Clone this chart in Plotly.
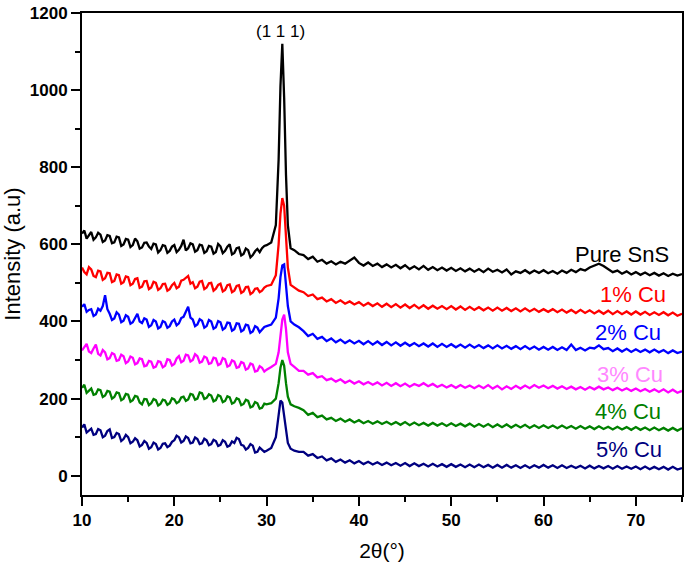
import numpy as np
import plotly.graph_objects as go

# 2theta sampling grid (degrees)
two_theta = (list(np.round(np.arange(10.0, 30.01, 0.25), 2))
             + [30.5, 31.0, 31.3, 31.5, 31.7, 31.9, 32.1, 32.3, 32.6, 33.0, 33.5]
             + list(np.round(np.arange(34.0, 75.01, 0.5), 2)))

pure_sns = [
    628, 636, 615, 622, 632, 612, 618, 630, 625, 606,
    610, 624, 622, 603, 605, 620, 618, 596, 600, 614,
    612, 593, 598, 615, 608, 589, 592, 604, 605, 594,
    588, 602, 600, 579, 585, 598, 596, 578, 583, 594,
    598, 580, 586, 596, 612, 584, 590, 603, 600, 581,
    585, 599, 597, 578, 582, 596, 594, 576, 580, 601,
    595, 577, 583, 594, 600, 574, 578, 590, 592, 571,
    575, 589, 585, 566, 572, 582, 588, 580, 590, 596,
    598,
    605, 650, 820, 1010, 1120, 980, 780, 650, 590, 585, 575,
    572, 562, 568, 555, 560, 550, 556, 548, 555, 550,
    558, 566, 552, 545, 553, 544, 550, 541, 548, 540,
    547, 538, 546, 536, 543, 535, 544, 534, 541, 533,
    540, 532, 539, 531, 538, 530, 537, 529, 536, 528,
    537, 529, 534, 527, 535, 522, 530, 526, 533, 525,
    532, 526, 533, 525, 531, 524, 532, 526, 534, 528,
    536, 532, 540, 545, 550, 544, 536, 528, 532, 524,
    530, 522, 528, 521, 527, 520, 526, 519, 525, 518,
    524, 519, 523,
]

cu_1 = [
    540, 528, 522, 541, 535, 518, 515, 532, 530, 508,
    512, 526, 525, 502, 505, 522, 520, 498, 502, 517,
    515, 494, 498, 510, 512, 487, 490, 504, 505, 484,
    488, 503, 500, 482, 486, 497, 498, 480, 484, 494,
    500, 486, 490, 506, 508, 514, 518, 498, 502, 486,
    490, 503, 505, 484, 488, 499, 500, 480, 485, 495,
    498, 478, 482, 494, 496, 476, 480, 492, 494, 474,
    478, 489, 490, 471, 475, 485, 486, 476, 480, 488,
    492,
    495, 520, 600, 680, 720, 700, 620, 540, 495, 488, 480,
    476, 466, 470, 458, 462, 452, 458, 448, 455, 446,
    452, 444, 450, 441, 448, 440, 447, 438, 446, 437,
    445, 436, 444, 435, 443, 434, 442, 433, 441, 433,
    440, 432, 440, 431, 439, 430, 438, 430, 437, 429,
    436, 428, 436, 428, 435, 427, 434, 426, 434, 426,
    433, 425, 432, 425, 432, 424, 431, 423, 430, 422,
    430, 422, 429, 421, 428, 420, 428, 419, 427, 419,
    426, 418, 426, 418, 425, 417, 424, 417, 424, 416,
    423, 415, 420,
]

cu_2 = [
    438, 445, 425, 430, 432, 414, 418, 433, 428, 440,
    468, 432, 420, 404, 408, 424, 418, 398, 402, 416,
    412, 394, 398, 410, 420, 400, 396, 408, 405, 386,
    390, 404, 400, 382, 386, 401, 398, 384, 388, 400,
    405, 390, 395, 409, 412, 425, 438, 410, 405, 388,
    392, 406, 402, 384, 388, 404, 400, 381, 385, 401,
    398, 379, 383, 397, 396, 376, 380, 395, 394, 374,
    378, 392, 390, 370, 374, 388, 384, 372, 380, 386,
    388,
    392, 410, 460, 515, 545, 548, 500, 440, 400, 392, 385,
    375, 362, 368, 355, 360, 349, 356, 346, 353, 344,
    351, 343, 350, 341, 349, 340, 348, 339, 347, 338,
    346, 337, 345, 337, 344, 336, 343, 335, 343, 334,
    342, 334, 341, 333, 340, 332, 340, 332, 339, 331,
    338, 330, 338, 330, 337, 329, 336, 328, 336, 328,
    335, 327, 334, 327, 334, 326, 333, 326, 340, 326,
    332, 325, 332, 330, 338, 328, 331, 323, 330, 322,
    329, 321, 328, 321, 327, 320, 327, 320, 326, 318,
    325, 318, 322,
]

cu_3 = [
    325, 333, 342, 322, 318, 330, 340, 316, 312, 326,
    320, 302, 305, 318, 315, 298, 300, 314, 310, 292,
    296, 309, 306, 289, 292, 304, 302, 284, 286, 298,
    296, 280, 283, 297, 295, 281, 285, 302, 300, 286,
    290, 304, 310, 294, 298, 314, 312, 296, 300, 315,
    310, 293, 296, 309, 306, 290, 292, 306, 304, 287,
    290, 305, 302, 283, 286, 299, 296, 280, 282, 295,
    292, 275, 278, 291, 288, 270, 272, 284, 280, 270,
    275,
    282, 290, 320, 370, 405, 418, 380, 320, 290, 282, 272,
    272, 262, 266, 255, 258, 248, 252, 244, 250, 241,
    247, 239, 245, 237, 243, 236, 242, 234, 241, 233,
    240, 232, 239, 231, 238, 233, 240, 232, 238, 230,
    236, 229, 235, 228, 235, 228, 234, 227, 234, 227,
    235, 226, 233, 224, 232, 225, 233, 226, 234, 227,
    235, 228, 234, 227, 233, 226, 232, 225, 231, 224,
    230, 223, 230, 224, 231, 224, 229, 222, 228, 221,
    227, 220, 226, 219, 225, 218, 224, 217, 224, 216,
    223, 215, 220,
]

cu_4 = [
    228, 236, 215, 221, 226, 210, 212, 224, 222, 204,
    208, 220, 218, 200, 204, 216, 214, 196, 200, 212,
    210, 192, 196, 207, 205, 190, 185, 199, 198, 183,
    188, 199, 196, 182, 186, 197, 195, 184, 188, 201,
    198, 188, 192, 203, 205, 194, 198, 212, 210, 197,
    200, 216, 214, 199, 202, 211, 208, 193, 196, 209,
    206, 191, 194, 206, 203, 187, 190, 201, 198, 183,
    186, 197, 194, 177, 180, 191, 188, 174, 176, 187,
    185,
    188, 200, 240, 280, 300, 285, 240, 205, 185, 180, 176,
    170, 158, 163, 152, 156, 146, 150, 142, 148, 140,
    146, 138, 144, 136, 142, 135, 141, 134, 140, 133,
    139, 132, 139, 131, 138, 131, 137, 130, 137, 130,
    136, 129, 136, 129, 135, 128, 135, 127, 134, 127,
    134, 126, 133, 126, 133, 125, 132, 125, 132, 124,
    131, 124, 131, 124, 130, 123, 130, 123, 129, 122,
    129, 122, 128, 121, 128, 121, 127, 120, 127, 120,
    126, 119, 126, 119, 125, 118, 125, 118, 124, 117,
    124, 117, 123,
]

cu_5 = [
    125, 133, 112, 118, 122, 106, 108, 121, 118, 100,
    104, 116, 120, 98, 100, 111, 108, 90, 95, 106,
    100, 84, 88, 97, 92, 76, 80, 90, 85, 70,
    74, 86, 82, 68, 72, 83, 84, 74, 78, 88,
    92, 104, 100, 86, 90, 102, 98, 84, 86, 99,
    95, 82, 84, 96, 92, 79, 82, 93, 90, 77,
    80, 92, 88, 75, 78, 89, 85, 98, 95, 80,
    78, 68, 72, 82, 78, 60, 62, 73, 68, 62,
    65,
    72, 100, 160, 195, 190, 150, 110, 85, 70, 65, 62,
    62, 52, 56, 46, 50, 40, 45, 36, 42, 34,
    40, 32, 38, 30, 36, 29, 35, 28, 34, 27,
    33, 26, 33, 25, 32, 25, 31, 24, 31, 24,
    30, 23, 30, 23, 29, 22, 29, 22, 29, 22,
    28, 21, 28, 21, 28, 21, 27, 20, 27, 20,
    27, 21, 28, 21, 27, 20, 27, 20, 26, 20,
    26, 19, 26, 19, 25, 19, 25, 18, 25, 18,
    24, 18, 24, 17, 24, 17, 23, 17, 23, 16,
    23, 16, 20,
]

series_names = ["Pure SnS", "1% Cu", "2% Cu", "3% Cu", "4% Cu", "5% Cu"]
series_values = [pure_sns, cu_1, cu_2, cu_3, cu_4, cu_5]
line_colors = ["#000000", "#FF0000", "#0000FF", "#FF00FF", "#008000", "#000080"]
label_colors = ["#000000", "#FF0000", "#0000FF", "#FF88FF", "#008000", "#000080"]

for v in series_values:
    assert len(v) == len(two_theta), (len(v), len(two_theta))

fig = go.Figure()
for name, vals, col in zip(series_names, series_values, line_colors):
    fig.add_trace(go.Scatter(x=two_theta, y=vals, mode="lines", name=name,
                             line=dict(color=col, width=2.3), showlegend=False))

label_pos = [(73.8, 574), (73.5, 470), (72.9, 371), (73.2, 262), (72.9, 166), (73.0, 68)]
for name, col, (lx, ly) in zip(series_names, label_colors, label_pos):
    fig.add_annotation(x=lx, y=ly, text=name, showarrow=False, xanchor="right",
                       yanchor="middle", font=dict(family="Liberation Sans, Arial", size=22, color=col))

fig.add_annotation(x=31.45, y=1153, text="(1 1 1)", showarrow=False, xanchor="center",
                   yanchor="middle", font=dict(family="Liberation Sans, Arial", size=17, color="black"))

axis_common = dict(showline=True, linecolor="black", linewidth=2, mirror=True, automargin=False,
                   showgrid=False, zeroline=False, ticks="outside", ticklen=9, tickwidth=2,
                   tickcolor="black",
                   tickfont=dict(family="Liberation Sans, Arial", size=17, color="black", weight="bold"))

fig.update_xaxes(range=[10, 75], tickvals=[10, 20, 30, 40, 50, 60, 70],
                 minor=dict(ticks="outside", ticklen=5, tickwidth=1.5, tickcolor="black", dtick=5, tick0=0),
                 title=dict(text="2θ(°)", font=dict(family="Liberation Sans, Arial", size=21, color="black"), standoff=14),
                 **axis_common)
fig.update_yaxes(range=[-50, 1200], tickvals=[0, 200, 400, 600, 800, 1000, 1200],
                 minor=dict(ticks="outside", ticklen=5, tickwidth=1.5, tickcolor="black", dtick=100, tick0=0),
                 title=dict(text="Intensity (a.u)", font=dict(family="Liberation Sans, Arial", size=22, color="black"), standoff=4),
                 **axis_common)

fig.update_layout(width=685, height=568, plot_bgcolor="white", paper_bgcolor="white",
                  margin=dict(l=82, r=3, t=13, b=73), showlegend=False)

fig.write_html("out.html", config={"displayModeBar": False},
               post_script="document.body.style.margin='0';document.body.style.padding='0';")
